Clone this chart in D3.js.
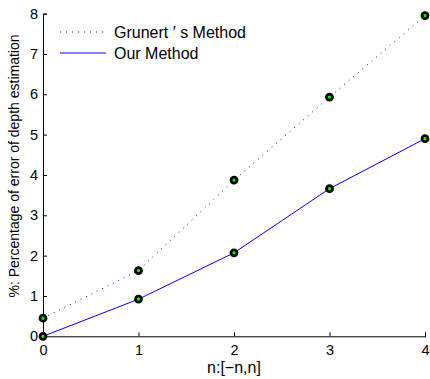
<!DOCTYPE html>
<html>
<head>
<meta charset="utf-8">
<script src="https://cdn.jsdelivr.net/npm/d3@7"></script>
<style>
  body { margin: 0; background: #fff; }
  text { font-family: "Liberation Sans", Arial, sans-serif; fill: #000; }
</style>
</head>
<body>
<svg id="chart" width="430" height="379"></svg>
<script>
const nValues = [0, 1, 2, 3, 4];
const grunertError = [0.45, 1.63, 3.87, 5.93, 7.95];
const ourError = [0, 0.92, 2.07, 3.66, 4.90];
const yTicks = [0, 1, 2, 3, 4, 5, 6, 7, 8];
const legendLabels = ['Grunert \u2032 s Method', 'Our Method'];

const margin = {top: 13.6, right: 5, bottom: 42.7, left: 43};
const width = 430, height = 379;

const svg = d3.select('#chart');

const x = d3.scaleLinear().domain([0, 4]).range([margin.left, width - margin.right]);
const y = d3.scaleLinear().domain([0, 8]).range([height - margin.bottom, margin.top]);

// axes, ticks pointing inward
const xAxis = svg.append('g')
    .attr('transform', `translate(0,${y(0)})`)
    .call(d3.axisBottom(x).tickValues(nValues).tickSize(-4).tickPadding(8).tickFormat(d3.format('d')));
const yAxis = svg.append('g')
    .attr('transform', `translate(${x(0)},0)`)
    .call(d3.axisLeft(y).tickValues(yTicks).tickSize(-4).tickPadding(5).tickFormat(d3.format('d')));

[xAxis, yAxis].forEach(a => {
    a.select('.domain').attr('stroke', '#000').attr('stroke-width', 1);
    a.selectAll('.tick line').attr('stroke', '#000');
    a.selectAll('.tick text').style('font-size', '14.5px').attr('fill', '#000');
});
xAxis.selectAll('.tick text').attr('dy', '0.75em');

const line = d3.line().x((d, i) => x(nValues[i])).y(d => y(d));

// Grunert's method, dotted
svg.append('path')
    .datum(grunertError)
    .attr('d', line)
    .attr('fill', 'none')
    .attr('stroke', '#0000ff')
    .attr('stroke-width', 1)
    .attr('stroke-dasharray', '1,5');

// our method, solid
svg.append('path')
    .datum(ourError)
    .attr('d', line)
    .attr('fill', 'none')
    .attr('stroke', '#0000ff')
    .attr('stroke-width', 1);

// markers
[grunertError, ourError].forEach(series => {
    svg.append('g')
        .selectAll('circle')
        .data(series)
        .enter()
        .append('circle')
        .attr('cx', (d, i) => x(nValues[i]))
        .attr('cy', d => y(d))
        .attr('r', 3)
        .attr('fill', '#00ff00')
        .attr('stroke', '#000')
        .attr('stroke-width', 2.8);
});

// legend
const legend = svg.append('g');
legendLabels.forEach((label, i) => {
    const ly = 32 + i * 21;
    legend.append('line')
        .attr('x1', 60).attr('x2', 106)
        .attr('y1', ly).attr('y2', ly)
        .attr('stroke', '#0000ff')
        .attr('stroke-width', 1)
        .attr('stroke-dasharray', i === 0 ? '1,5' : null);
    legend.append('text')
        .attr('x', 114).attr('y', ly)
        .attr('dy', '0.35em')
        .style('font-size', '16px')
        .text(label);
});

// axis labels
svg.append('text')
    .attr('x', x(2)).attr('y', 373)
    .attr('text-anchor', 'middle')
    .style('font-size', '16px')
    .text('n:[\u2212n,n]');

svg.append('text')
    .attr('transform', 'translate(19,166) rotate(-90)')
    .attr('text-anchor', 'middle')
    .style('font-size', '14px')
    .text('%: Percentage of error of depth estimation');
</script>
</body>
</html>
